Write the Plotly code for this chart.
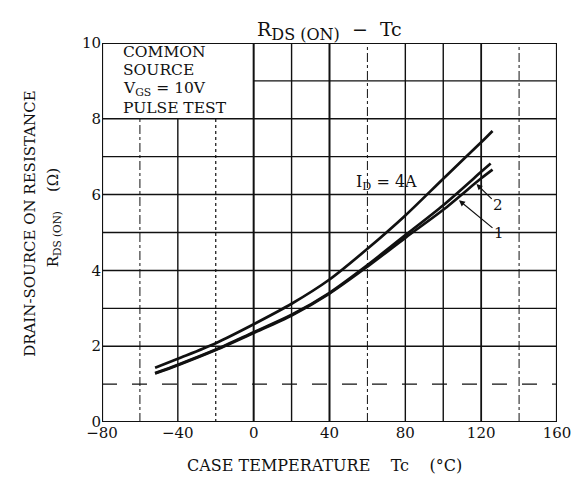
import plotly.graph_objects as go

# ---- data ----
temp_upper = [-52, -40, -20, 0, 20, 40, 60, 80, 100, 120, 126]
rds_upper = [1.43, 1.67, 2.08, 2.58, 3.12, 3.76, 4.57, 5.45, 6.42, 7.38, 7.68]

temp_curve2 = [-52, -40, -20, 0, 20, 40, 60, 80, 100, 120, 125]
rds_curve2 = [1.29, 1.51, 1.91, 2.37, 2.83, 3.41, 4.14, 4.93, 5.72, 6.60, 6.82]

temp_curve1 = [-52, -40, -20, 0, 20, 40, 60, 80, 100, 120, 126]
rds_curve1 = [1.28, 1.50, 1.90, 2.35, 2.81, 3.39, 4.10, 4.86, 5.60, 6.43, 6.66]

x_tickvals = [-80, -40, 0, 40, 80, 120, 160]
x_ticktext = ["\u221280", "\u221240", "0", "40", "80", "120", "160"]
y_tickvals = [0, 2, 4, 6, 8, 10]
y_ticktext = ["0", "2", "4", "6", "8", "10"]

x_grid = [-60, -40, -20, 0, 20, 40, 60, 80, 100, 120, 140]
y_grid = [1, 2, 3, 4, 5, 6, 7, 8, 9]

FONT = "DejaVu Serif"
INK = "#111111"

fig = go.Figure()

for xs, ys in [(temp_upper, rds_upper), (temp_curve2, rds_curve2), (temp_curve1, rds_curve1)]:
    fig.add_trace(go.Scatter(x=xs, y=ys, mode="lines",
                             line=dict(color=INK, width=2.7, shape="spline", smoothing=0.8),
                             showlegend=False, hoverinfo="skip"))

# grid lines (the box area in the upper-left corner is kept free of grid)
v_styles = {-60: ("dashdot", 1.0), -40: ("solid", 1.4), -20: ("dot", 1.2), 0: ("solid", 2.0),
            20: ("solid", 1.4), 40: ("solid", 2.0), 60: ("dashdot", 1.0), 80: ("solid", 1.4),
            100: ("solid", 1.4), 120: ("solid", 1.8), 140: ("dashdot", 1.0)}
shapes = []
for gx in x_grid:
    dash, w = v_styles[gx]
    top = 8 if gx < 0 else 10
    shapes.append(dict(type="line", xref="x", yref="y", x0=gx, x1=gx, y0=0, y1=top,
                       line=dict(color=INK, width=w, dash=dash), layer="below"))
h_styles = {1: ("longdash", 1.1), 2: ("solid", 1.5), 3: ("solid", 1.2), 4: ("solid", 1.5),
            5: ("solid", 1.3), 6: ("solid", 1.5), 7: ("solid", 1.3), 8: ("solid", 1.5),
            9: ("solid", 1.3)}
for gy in y_grid:
    dash, w = h_styles[gy]
    left = 0 if gy > 8 else -80
    shapes.append(dict(type="line", xref="x", yref="y", x0=left, x1=160, y0=gy, y1=gy,
                       line=dict(color=INK, width=w, dash=dash), layer="below"))
# frame
shapes.append(dict(type="rect", xref="x", yref="y", x0=-80, x1=160, y0=0, y1=10,
                   line=dict(color=INK, width=2.2), layer="above"))

annotations = []
# box text
box_lines = ["COMMON", "SOURCE", "V<sub>GS</sub> = 10V", "PULSE TEST"]
box_y = [9.76, 9.28, 8.79, 8.28]
for t, yy in zip(box_lines, box_y):
    annotations.append(dict(x=-70.0, y=yy, xref="x", yref="y", text=t, showarrow=False,
                            xanchor="left", yanchor="middle",
                            font=dict(family=FONT, size=15.5, color=INK)))
# curve labels
annotations.append(dict(x=70, y=6.32, xref="x", yref="y", text="I<sub>D</sub> = 4A",
                        showarrow=False, font=dict(family=FONT, size=16, color=INK)))
annotations.append(dict(x=108.3, y=5.85, xref="x", yref="y", ax=129.4, ay=4.98,
                        axref="x", ayref="y", text="1", showarrow=True, arrowhead=2,
                        arrowsize=1, arrowwidth=1.2, arrowcolor=INK, standoff=0,
                        font=dict(family=FONT, size=15, color=INK)))
annotations.append(dict(x=117.5, y=6.28, xref="x", yref="y", ax=129.0, ay=5.72,
                        axref="x", ayref="y", text="2", showarrow=True, arrowhead=2,
                        arrowsize=1, arrowwidth=1.2, arrowcolor=INK, standoff=0,
                        font=dict(family=FONT, size=15, color=INK)))
# title
annotations.append(dict(x=0.50, y=1.072, xref="paper", yref="paper",
                        text="R<sub><span style='font-size:16px'>DS (ON)</span></sub>\u00a0\u00a0\u2212\u00a0\u00a0Tc",
                        showarrow=False, font=dict(family=FONT, size=19, color=INK)))
# x title
annotations.append(dict(x=0.49, y=-0.146, xref="paper", yref="paper",
                        text="CASE TEMPERATURE\u00a0\u00a0\u00a0\u00a0Tc\u00a0\u00a0\u00a0\u00a0(\u00b0C)",
                        showarrow=False, font=dict(family=FONT, size=16, color=INK)))
# y title (two lines)
annotations.append(dict(x=-0.181, y=0.522, xref="paper", yref="paper",
                        text="DRAIN-SOURCE ON RESISTANCE", textangle=-90, showarrow=False,
                        font=dict(family=FONT, size=15, color=INK)))
annotations.append(dict(x=-0.133, y=0.54, xref="paper", yref="paper",
                        text="R<sub>DS (ON)</sub>\u00a0\u00a0\u00a0\u00a0(\u03a9)", textangle=-90,
                        showarrow=False, font=dict(family=FONT, size=15, color=INK)))

# the page body adds an 8px margin, so the figure is offset by 8px
fig.update_layout(
    width=575, height=483,
    margin=dict(l=94, r=18, t=35, b=69),
    paper_bgcolor="white", plot_bgcolor="white",
    shapes=shapes, annotations=annotations,
    xaxis=dict(range=[-80, 160], tickvals=x_tickvals, ticktext=x_ticktext, showgrid=False,
               zeroline=False, showline=False, ticks="",
               tickfont=dict(family=FONT, size=15, color=INK)),
    yaxis=dict(range=[0, 10], tickvals=y_tickvals, ticktext=y_ticktext, showgrid=False,
               zeroline=False, showline=False, ticks="",
               tickfont=dict(family=FONT, size=15, color=INK)),
)

fig.write_html("out.html", config={"displayModeBar": False})
